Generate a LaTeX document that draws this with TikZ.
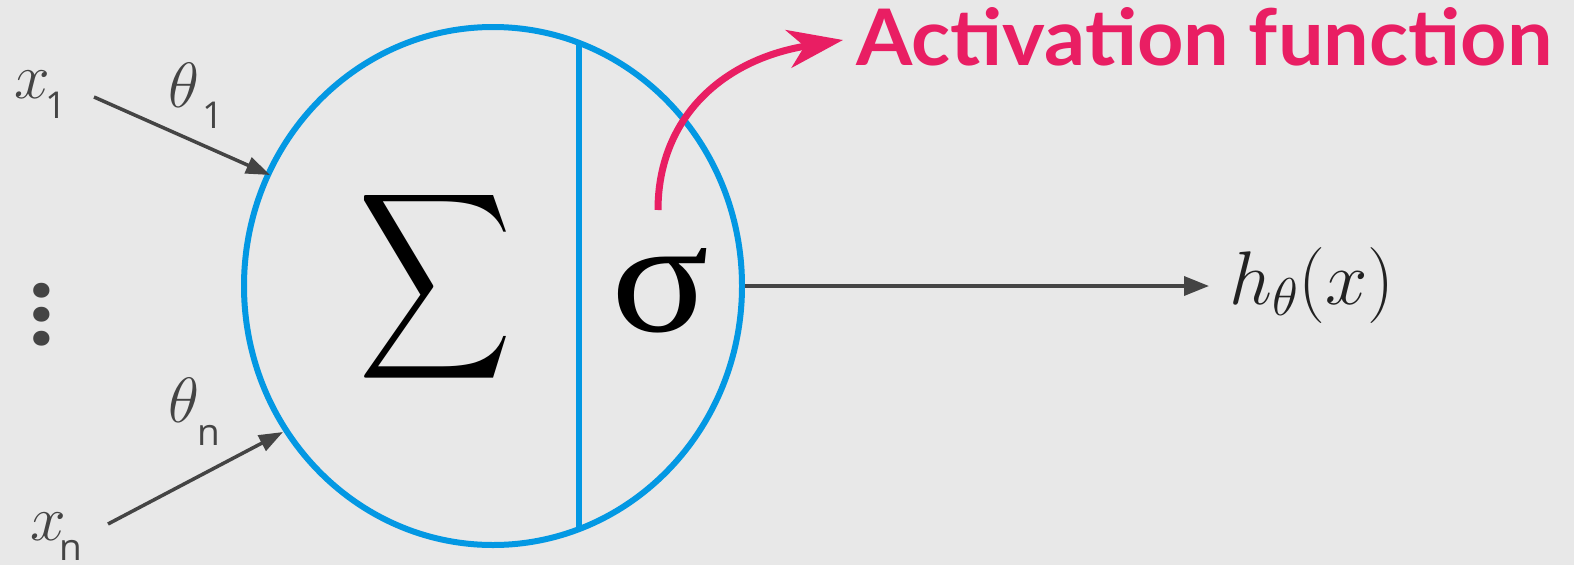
\RequirePackage{fix-cm}
\documentclass[tikz,border=0pt]{standalone}
\usepackage{fontspec}
\usepackage{graphicx}
\newfontfamily\subfont{Open Sans}
\newfontfamily\latofont{Lato}
\newfontfamily\serifgr{Liberation Serif}
\newfontfamily\dotfont{Poppins}
\usetikzlibrary{arrows.meta,shapes.geometric}
\definecolor{bg}{HTML}{E8E8E8}
\definecolor{nblue}{HTML}{0398E3}
\definecolor{npink}{HTML}{E91E63}
\definecolor{txt}{HTML}{444444}
\definecolor{dark}{HTML}{222222}
\begin{document}
\begin{tikzpicture}[x=1pt,y=-1pt,
  lab/.style={inner sep=0pt, anchor=base west, text=txt},
  mainlab/.style={lab, font=\fontsize{64pt}{64pt}\selectfont},
  sublab/.style={lab, font=\subfont\fontsize{37pt}{37pt}\selectfont},
  inarrow/.style={draw=txt, line width=3.5pt, -{Triangle[length=24pt,width=17pt]}},
  outarrow/.style={draw=txt, line width=3.5pt, -{Triangle[length=25pt,width=19pt]}},
  pinkarrow/.style={draw=npink, line width=7pt, -{Stealth[length=55pt,width=38pt,inset=16pt]}},
  neuronstyle/.style={ellipse, draw=nblue, line width=6pt, minimum width=498pt, minimum height=518pt, inner sep=0pt}
]
\fill[bg] (0,0) rectangle (1574,565);
\useasboundingbox (0,0) rectangle (1574,565);

% neuron
\node[neuronstyle] (neuron) at (493,286) {};
\draw[nblue, line width=5.5pt] (579,43) -- (579,527);
\node[inner sep=0pt] (sum) at (436,287) {\resizebox{154pt}{137pt}{$\displaystyle\sum$}};
\node[inner sep=0pt] (sig) at (660,291) {\resizebox{98pt}{83pt}{\serifgr σ}};

% inputs
\node[mainlab] (x1) at (14,98) {$x$};
\node[sublab] (x1s) at (45,118) {1};
\node[mainlab] (t1) at (168,107) {$\theta$};
\node[sublab] (t1s) at (202,128) {1};
\node[mainlab] (tn) at (168,422) {$\theta$};
\node[sublab] (tns) at (197,445) {n};
\node[mainlab] (xn) at (30,540) {$x$};
\node[sublab] (xns) at (59,560) {n};
\node[inner sep=0pt, text=txt, font=\dotfont\bfseries\fontsize{80pt}{80pt}\selectfont] (dots) at (42,315) {\rlap{\raisebox{24pt}{.}}\rlap{.}\raisebox{-24pt}{.}};

\coordinate (s1) at (94,97);
\coordinate (e1) at (270,175);
\coordinate (sn) at (108,524);
\coordinate (en) at (283,432);
\draw[inarrow] (s1) -- (e1);
\draw[inarrow] (sn) -- (en);

% output
\coordinate (outtip) at (1209,287);
\node[lab, text=dark, font=\fontsize{76pt}{76pt}\selectfont] (h) at (1229,304) {$h_\theta(x)$};
\draw[outarrow] (neuron.east) -- (outtip |- neuron.east);

% activation
\coordinate (ps) at (658,210);
\coordinate (pe) at (843,40);
\draw[pinkarrow] (ps) .. controls (658,120) and (720,60) .. (pe);
\node[inner sep=0pt, anchor=base west, text=npink] (act) at (856,65) {\resizebox{696pt}{58pt}{\latofont\bfseries Activation function}};
\end{tikzpicture}
\end{document}
